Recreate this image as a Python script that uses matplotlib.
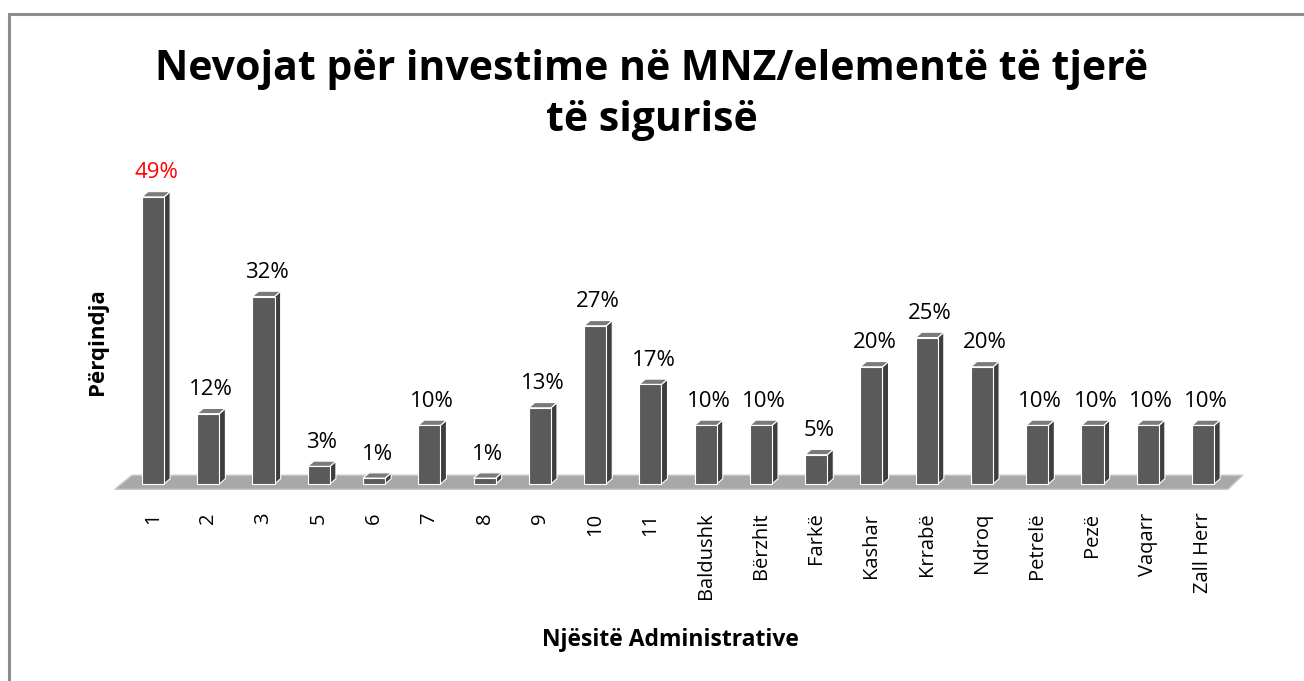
import matplotlib.pyplot as plt
from matplotlib.patches import Polygon, Rectangle

# data
categories = ['1', '2', '3', '5', '6', '7', '8', '9', '10', '11', 'Baldushk', 'Bërzhit',
              'Farkë', 'Kashar', 'Krrabë', 'Ndroq', 'Petrelë', 'Pezë', 'Vaqarr', 'Zall Herr']
values = [49, 12, 32, 3, 1, 10, 1, 13, 27, 17, 10, 10, 5, 20, 25, 20, 10, 10, 10, 10]
labels = ['49%', '12%', '32%', '3%', '1%', '10%', '1%', '13%', '27%', '17%', '10%', '10%',
          '5%', '20%', '25%', '20%', '10%', '10%', '10%', '10%']
label_colors = ['red'] + ['black'] * 19

plt.rcParams['font.family'] = ['Open Sans', 'DejaVu Sans']

W, H = 1304, 681
fig = plt.figure(figsize=(W / 100, H / 100), dpi=100)

# outer frame of the chart area
fig.patches.append(Rectangle((9 / W, -0.1), 1.2, 1 - 14 / H + 0.1, transform=fig.transFigure,
                             fill=False, edgecolor='#8c8c8c', linewidth=2.2))

ax = fig.add_axes([110 / W, (H - 500) / H, 1140 / W, 340 / H])
ax.set_xlim(-0.778, 19.85)
ax.set_ylim(-2.73, 55.3)
ax.axis('off')

bw = 0.40   # front width
dx = 0.11   # depth in x units
dy = 0.9    # depth in y units

# floor
floor = Polygon([(-0.69, -0.9), (19.45, -0.9), (19.72, 1.5), (-0.38, 1.5)], closed=True,
                facecolor='#a8a8a8', edgecolor='#c8c8c8', linewidth=1.0, zorder=1)
ax.add_patch(floor)

for i, v in enumerate(values):
    x0 = i - bw / 2
    x1 = i + bw / 2
    # side face
    ax.add_patch(Polygon([(x1, 0), (x1 + dx, dy), (x1 + dx, v + dy), (x1, v)], closed=True,
                         facecolor='#3e3e3e', edgecolor='white', linewidth=0.8, zorder=2))
    # top face
    ax.add_patch(Polygon([(x0, v), (x1, v), (x1 + dx, v + dy), (x0 + dx, v + dy)], closed=True,
                         facecolor='#7a7a7a', edgecolor='white', linewidth=0.8, zorder=3))
    ax.text(i + dx / 2, v + dy + 1.4, labels[i], ha='center', va='bottom', fontsize=16,
            color=label_colors[i], zorder=5)

ax.bar(range(len(values)), values, width=bw, color='#5a5a5a', edgecolor='white',
       linewidth=0.8, zorder=4)

for i, c in enumerate(categories):
    ax.text(i, -4.9, c, rotation=90, ha='center', va='top', fontsize=14.5, clip_on=False)

fig.text(652 / W, 1 - 95 / H, 'Nevojat për investime në MNZ/elementë të tjerë\ntë sigurisë',
         ha='center', va='center', fontsize=29.5, fontweight='bold', linespacing=1.35)
fig.text(97 / W, 1 - 342 / H, 'Përqindja', rotation=90, ha='center', va='center',
         fontsize=16, fontweight='bold')
fig.text(670 / W, 1 - 640 / H, 'Njësitë Administrative', ha='center', va='center',
         fontsize=16.5, fontweight='bold')

fig.savefig('out.png', dpi=100)
